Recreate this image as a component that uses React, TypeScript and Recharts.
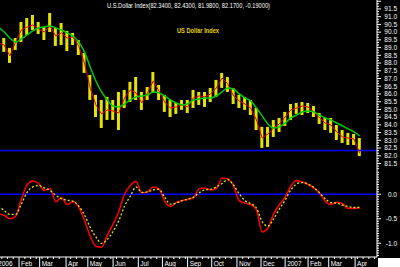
import React from 'react';
import { ComposedChart, Bar, Line, XAxis, YAxis, ReferenceLine } from 'recharts';

// weekly samples; day = trading-day index counted from the first session of Jan 2006
const weekDay = [
  2, 7, 12, 17, 22, 27, 32, 37, 42, 47, 52, 57, 62, 67, 72, 77, 82, 87, 92, 97,
  102, 107, 112, 117, 122, 127, 132, 137, 142, 147, 152, 157, 162, 167, 172, 177, 182, 187, 192, 197,
  202, 207, 212, 217, 222, 227, 232, 237, 242, 247, 252, 257, 262, 267, 272, 277, 282, 287, 292, 297,
  302, 307, 312, 317,
];

const high = [
  89.62, 89.62, 88.98, 89.62, 90.66, 90.92, 91.11, 90.66, 90.33, 91.24,
  90.27, 90.59, 90.08, 89.95, 89.49, 88.65, 87.23, 85.94, 85.61, 85.81,
  85.61, 86.13, 86.26, 86.78, 87.1, 86.13, 86.45, 87.42, 86.58, 85.94,
  85.61, 85.42, 85.61, 85.61, 86.26, 86.13, 86.13, 86.39, 86.91, 87.36,
  87.1, 86.39, 85.94, 85.81, 85.61, 85.09, 83.87, 83.87, 84.32, 84.45,
  84.84, 85.35, 85.42, 85.48, 85.42, 85.22, 84.77, 84.45, 84.45, 83.99,
  83.67, 83.48, 83.41, 83.15,
];

const low = [
  88.85, 88.72, 88.01, 88.85, 89.36, 89.82, 90.14, 89.88, 89.49, 90.01,
  89.11, 89.17, 88.78, 89.17, 88.52, 87.36, 85.61, 84.51, 83.8, 84.32,
  84.32, 83.67, 85.09, 85.48, 85.61, 84.97, 85.61, 86.07, 85.61, 84.84,
  84.51, 84.71, 84.97, 84.77, 85.09, 85.29, 85.16, 85.48, 85.81, 86.39,
  86.13, 85.35, 85.09, 84.97, 84.64, 83.67, 82.51, 82.57, 83.22, 83.54,
  83.93, 84.32, 84.71, 84.64, 84.77, 84.51, 84.06, 83.67, 83.48, 83.02,
  82.83, 82.7, 82.7, 81.98,
];

const close = [
  89.3, 89.17, 88.46, 89.36, 90.14, 90.33, 90.46, 90.21, 90.01, 90.4,
  89.75, 89.95, 89.62, 89.69, 89.11, 88.01, 86.39, 85.29, 84.71, 84.97,
  84.9, 84.77, 85.74, 86.26, 86.07, 85.42, 86.07, 86.84, 86.19, 85.48,
  85.09, 85.16, 85.29, 85.16, 85.74, 85.87, 85.81, 86.0, 86.39, 87.03,
  86.65, 85.87, 85.55, 85.35, 85.09, 84.32, 83.15, 83.41, 83.8, 84.06,
  84.51, 84.97, 85.09, 85.22, 85.16, 84.84, 84.45, 84.12, 83.99, 83.54,
  83.22, 83.15, 83.09, 82.17,
];

const average = [
  90.33, 90.01, 89.62, 89.36, 89.56, 89.82, 90.08, 90.27, 90.33, 90.4,
  90.27, 90.14, 89.95, 89.75, 89.36, 88.72, 87.75, 86.84, 86.13, 85.61,
  85.22, 85.16, 85.35, 85.61, 85.81, 85.87, 85.94, 86.13, 86.07, 85.87,
  85.61, 85.42, 85.29, 85.35, 85.61, 85.68, 85.74, 85.74, 85.87, 86.13,
  86.39, 86.32, 86.0, 85.74, 85.55, 85.09, 84.58, 84.06, 83.8, 83.87,
  84.12, 84.45, 84.64, 84.84, 84.9, 84.84, 84.64, 84.45, 84.32, 84.12,
  83.93, 83.74, 83.54, 83.28,
];

const oscillator = [
  -0.4, -0.43, -0.5, -0.45, -0.1, 0.19, 0.27, 0.22, 0.08, 0.12,
  -0.15, -0.07, -0.21, -0.15, -0.26, -0.53, -0.85, -1.06, -1.08, -0.83,
  -0.61, -0.35, 0.0, 0.18, 0.26, 0.03, 0.05, 0.15, 0.11, -0.14,
  -0.25, -0.17, -0.13, -0.1, -0.07, 0.11, 0.13, 0.09, 0.12, 0.33,
  0.32, 0.17, -0.13, -0.18, -0.21, -0.32, -0.77, -0.69, -0.4, -0.21,
  -0.06, 0.17, 0.28, 0.25, 0.2, 0.13, 0.02, -0.14, -0.21, -0.16,
  -0.19, -0.29, -0.29, -0.28,
];

const signal = [
  -0.24, -0.33, -0.41, -0.41, -0.2, 0.04, 0.15, 0.18, 0.13, 0.08,
  -0.02, -0.09, -0.12, -0.14, -0.24, -0.42, -0.67, -0.87, -1.0, -0.92,
  -0.76, -0.54, -0.24, -0.04, 0.15, 0.04, 0.05, 0.09, 0.1, -0.06,
  -0.2, -0.18, -0.13, -0.1, -0.06, 0.03, 0.09, 0.1, 0.15, 0.22,
  0.3, 0.19, 0.01, -0.13, -0.19, -0.28, -0.56, -0.65, -0.5, -0.3,
  -0.12, 0.09, 0.21, 0.24, 0.21, 0.14, 0.03, -0.09, -0.17, -0.18,
  -0.22, -0.25, -0.27, -0.26,
];

const monthDay = [0, 20, 38, 61, 80, 102, 124, 145, 167, 188, 210, 231, 252, 272, 290, 313];
const monthLabel = ['2006', 'Feb', 'Mar', 'Apr', 'May', 'Jun', 'Jul', 'Aug', 'Sep', 'Oct', 'Nov', 'Dec', '2007', 'Feb', 'Mar', 'Apr'];

const supportLevel = 82.34;
const title = 'U.S.Dollar Index(82.3400, 82.4300, 81.9800, 82.1700, -0.19000)';

const data = weekDay.map((day, i) => ({
  day,
  range: [low[i], high[i]],
  close: close[i],
  average: average[i],
  oscillator: oscillator[i],
  signal: signal[i],
}));

const DAY_DOMAIN: [number, number] = [3.4, 332.1];
const PRICE_DOMAIN: [number, number] = [81.08, 92.08];
const OSC_DOMAIN: [number, number] = [-1.28, 0.496];
const FONT = '"Liberation Sans", Arial, sans-serif';

// tick combs for the right scale
const priceTicks: number[] = [];
for (let i = -2; i <= 63; i++) priceTicks.push(Math.round((81.5 + i / 6) * 10000) / 10000);
const oscTicks: number[] = [];
for (let i = -25; i <= 9; i++) oscTicks.push(Math.round(i * 5) / 100);
const dayTicks: number[] = [...monthDay];
for (let d = 5; d < 332; d += 5) {
  if (monthDay.every((m) => Math.abs(m - d) > 1)) dayTicks.push(d);
}
dayTicks.sort((a, b) => a - b);

const isHalf = (v: number) => Math.abs(v * 2 - Math.round(v * 2)) < 1e-6;

const PriceTick = ({ x, y, payload }: any) => {
  const v = payload.value;
  const major = isHalf(v);
  return (
    <g>
      <line x1={x} x2={x + (major ? 4 : 2)} y1={y} y2={y} stroke="#fff" />
      {major && v <= 91.6 && (
        <text x={397} y={y + 2.3} textAnchor="end" fill="#fff" fontSize={6.5} fontFamily={FONT}>
          {v.toFixed(1)}
        </text>
      )}
    </g>
  );
};

const OscTick = ({ x, y, payload }: any) => {
  const v = payload.value;
  const major = isHalf(v);
  return (
    <g>
      <line x1={x} x2={x + (major ? 4 : 2)} y1={y} y2={y} stroke="#fff" />
      {major && (
        <text x={397} y={y + 2.3} textAnchor="end" fill="#fff" fontSize={6.5} fontFamily={FONT}>
          {v.toFixed(1)}
        </text>
      )}
    </g>
  );
};

const DayTick = ({ x, y, payload }: any) => {
  const i = monthDay.indexOf(payload.value);
  if (i < 0) return <line x1={x} x2={x} y1={y} y2={y + 2} stroke="#fff" />;
  return (
    <g>
      <line x1={x} x2={x} y1={y} y2={y + 10} stroke="#fff" />
      <text x={x + 2} y={y + 8.5} fill="#fff" fontSize={6.5} fontFamily={FONT}>
        {monthLabel[i]}
      </text>
    </g>
  );
};

export default function App() {
  return (
    <div style={{ position: 'absolute', left: 0, top: 0, width: 400, height: 267, background: '#000', overflow: 'hidden' }}>
      <div style={{ position: 'absolute', left: 0, top: 0 }}>
        <ComposedChart width={400} height={170} data={data} margin={{ top: 0, right: 0, bottom: 0, left: 0 }}>
          <XAxis dataKey="day" type="number" domain={DAY_DOMAIN} allowDataOverflow hide />
          <YAxis
            orientation="right"
            type="number"
            domain={PRICE_DOMAIN}
            allowDataOverflow
            width={23}
            ticks={priceTicks}
            interval={0}
            tick={<PriceTick />}
            tickSize={0}
            tickMargin={0}
            tickLine={false}
            axisLine={{ stroke: '#fff' }}
          />
          <ReferenceLine y={supportLevel} stroke="#0000ff" strokeWidth={1.5} />
          <Bar dataKey="range" fill="#e4e400" barSize={3} isAnimationActive={false} />
          <Line type="linear" dataKey="close" stroke="#e00000" strokeWidth={1} dot={false} isAnimationActive={false} />
          <Line type="monotone" dataKey="average" stroke="#00cc00" strokeWidth={1.5} dot={false} isAnimationActive={false} />
        </ComposedChart>
      </div>
      <div style={{ position: 'absolute', left: 0, top: 170 }}>
        <ComposedChart width={400} height={97} data={data} margin={{ top: 0, right: 0, bottom: 0, left: 0 }}>
          <XAxis
            dataKey="day"
            type="number"
            domain={DAY_DOMAIN}
            allowDataOverflow
            height={10}
            ticks={dayTicks}
            interval={0}
            tick={<DayTick />}
            tickSize={0}
            tickMargin={0}
            tickLine={false}
            axisLine={{ stroke: '#fff' }}
          />
          <YAxis
            orientation="right"
            type="number"
            domain={OSC_DOMAIN}
            allowDataOverflow
            width={23}
            ticks={oscTicks}
            interval={0}
            tick={<OscTick />}
            tickSize={0}
            tickMargin={0}
            tickLine={false}
            axisLine={{ stroke: '#fff' }}
          />
          <ReferenceLine y={0} stroke="#0000ff" strokeWidth={1.5} />
          <Line type="monotone" dataKey="oscillator" stroke="#ff0000" strokeWidth={1.5} dot={false} isAnimationActive={false} />
          <Line type="monotone" dataKey="signal" stroke="#e8e800" strokeWidth={1.3} strokeDasharray="2 2" dot={false} isAnimationActive={false} />
        </ComposedChart>
      </div>
      <svg width={400} height={267} style={{ position: 'absolute', left: 0, top: 0, pointerEvents: 'none' }}>
        <text x={107} y={7.5} fontSize={7} fill="#fff" fontFamily={FONT} textLength={163} lengthAdjust="spacingAndGlyphs">
          {title}
        </text>
        <text x={177} y={33} fontSize={7} fill="#e6d200" fontWeight="bold" fontFamily={FONT} textLength={42} lengthAdjust="spacingAndGlyphs">
          US Dollar Index
        </text>
        <rect x={378} y={258} width={22} height={9} fill="#fff" />
      </svg>
    </div>
  );
}
